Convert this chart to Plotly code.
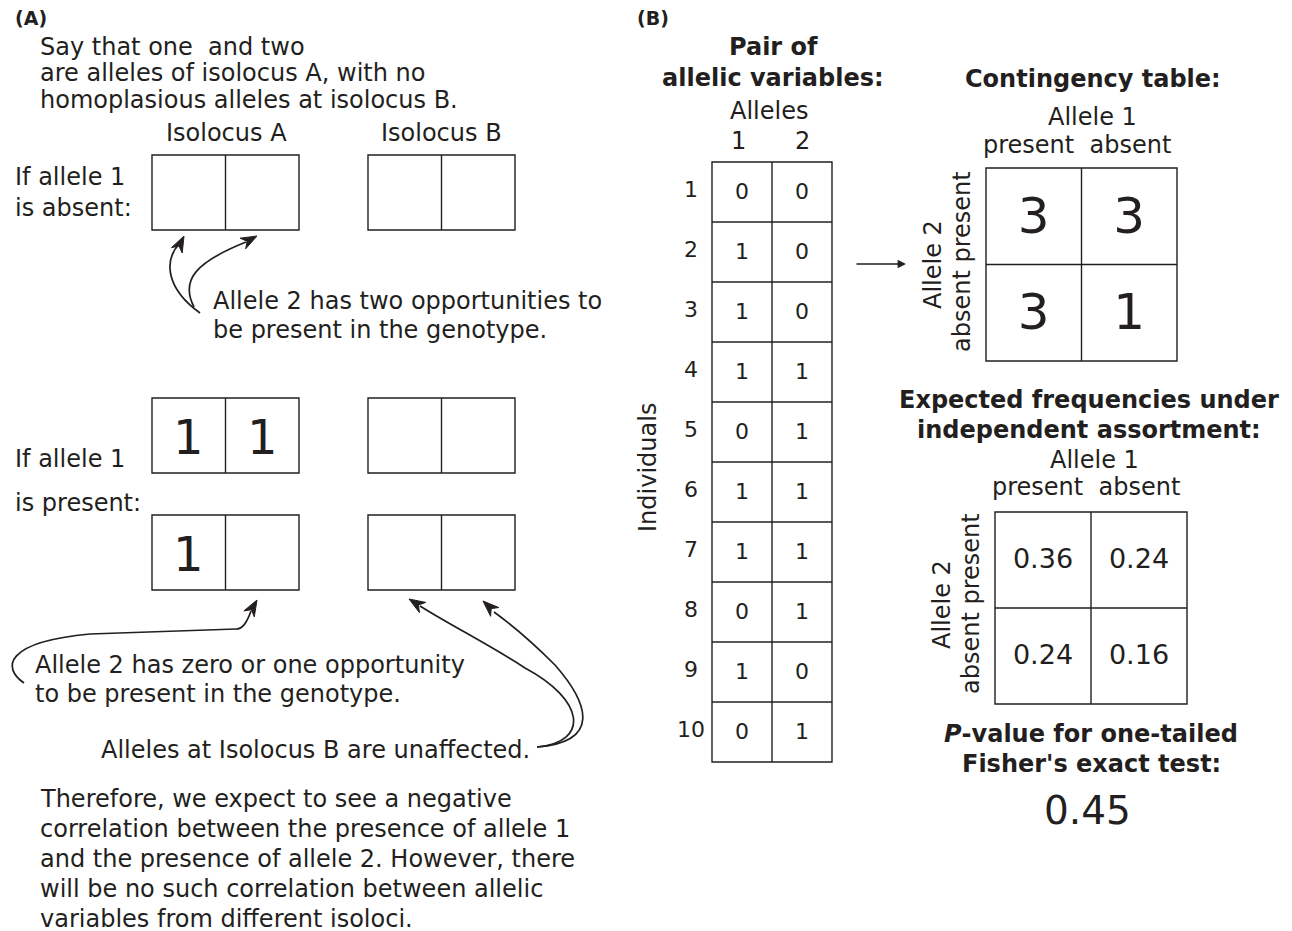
import math
import plotly.graph_objects as go

# ---------------- data ----------------
individuals = list(range(1, 11))
allele1 = [0, 1, 1, 1, 0, 1, 1, 0, 1, 0]
allele2 = [0, 0, 0, 1, 1, 1, 1, 1, 0, 1]
col_labels = ["present", "absent"]          # Allele 1
row_labels = ["present", "absent"]          # Allele 2
contingency = [[3, 3], [3, 1]]              # rows: allele2 present/absent, cols: allele1 present/absent
expected = [[0.36, 0.24], [0.24, 0.16]]
p_value = 0.45
# isolocus example cell contents (left cell, right cell)
absent_A = ["", ""]
present_A_top = ["1", "1"]
present_A_bot = ["1", ""]

FONT = "DejaVu Sans"
INK = "#231f20"
FS = 24

W, H = 1292, 931
OFF = 8  # page body margin
fig = go.Figure()
shapes = []
annos = []


def txt(x, y, s, size=FS, anchor="left", bold=False, angle=0, yanchor="middle"):
    if bold:
        s = "<b>" + s + "</b>"
    annos.append(dict(x=x, y=y, xref="x", yref="y", text=s, showarrow=False,
                      xanchor=anchor, yanchor=yanchor, textangle=angle,
                      font=dict(family=FONT, size=size, color=INK)))


def rect(x0, y0, x1, y1, w=1.4):
    shapes.append(dict(type="rect", x0=x0, y0=y0, x1=x1, y1=y1, xref="x", yref="y",
                       line=dict(color=INK, width=w), fillcolor="rgba(0,0,0,0)"))


def line(x0, y0, x1, y1, w=1.4):
    shapes.append(dict(type="line", x0=x0, y0=y0, x1=x1, y1=y1, xref="x", yref="y",
                       line=dict(color=INK, width=w)))


def head(tip, frm, L=16, Wd=6):
    dx, dy = tip[0] - frm[0], tip[1] - frm[1]
    n = math.hypot(dx, dy)
    ux, uy = dx / n, dy / n
    bx, by = tip[0] - ux * L, tip[1] - uy * L
    mx, my = tip[0] - ux * L * 0.7, tip[1] - uy * L * 0.7
    px, py = -uy, ux
    p = (f"M {tip[0]},{tip[1]} L {bx + px * Wd},{by + py * Wd} L {mx},{my} "
         f"L {bx - px * Wd},{by - py * Wd} Z")
    shapes.append(dict(type="path", path=p, xref="x", yref="y",
                       line=dict(color=INK, width=1), fillcolor=INK))


def curve(path, tip, frm):
    shapes.append(dict(type="path", path=path, xref="x", yref="y",
                       line=dict(color=INK, width=1.7)))
    head(tip, frm)


def pair_box(x0, y0, cw=73.5, ch=75, vals=("", ""), size=48):
    rect(x0, y0, x0 + 2 * cw, y0 + ch)
    line(x0 + cw, y0, x0 + cw, y0 + ch)
    for i, v in enumerate(vals):
        if v:
            txt(x0 + cw * (i + 0.5), y0 + ch / 2 + 1, v, size=size, anchor="center")


# ---------------- panel A ----------------
txt(13, 18, "(A)", size=19, bold=True)
txt(38, 47, "Say that one  and two")
txt(38, 73, "are alleles of isolocus A, with no")
txt(38, 100, "homoplasious alleles at isolocus B.")
txt(226, 133, "Isolocus A", anchor="center")
txt(441, 133, "Isolocus B", anchor="center")
txt(13, 177, "If allele 1")
txt(13, 208, "is absent:")
pair_box(152, 155, vals=absent_A)
pair_box(368, 155)

curve("M 200,313 C 168,290 162,262 180,243", (184, 236), (178, 248))
curve("M 194,307 C 180,280 196,262 246,242", (257, 236), (240, 245))
txt(211, 301, "Allele 2 has two opportunities to")
txt(211, 330, "be present in the genotype.")

txt(13, 459, "If allele 1")
txt(13, 503, "is present:")
pair_box(152, 398, vals=present_A_top)
pair_box(368, 398)
pair_box(152, 515, vals=present_A_bot)
pair_box(368, 515)

curve("M 24,683 C 2,668 4,642 90,634 L 236,629 C 243,629 247,622 251,611",
      (257, 600), (249, 614))
txt(33, 665, "Allele 2 has zero or one opportunity")
txt(33, 694, "to be present in the genotype.")

curve("M 537,747 C 590,742 585,700 525,668 C 490,645 450,625 420,606",
      (409, 599), (425, 609))
curve("M 537,747 C 600,742 590,705 555,665 C 530,640 505,620 494,612",
      (483, 601), (498, 615))
txt(532, 750, "Alleles at Isolocus B are unaffected.", anchor="right")

para = ["Therefore, we expect to see a negative",
        "correlation between the presence of allele 1",
        "and the presence of allele 2. However, there",
        "will be no such correlation between allelic",
        "variables from different isoloci."]
for i, s in enumerate(para):
    txt(38, 799 + 30 * i, s)

# ---------------- panel B ----------------
txt(635, 18, "(B)", size=19, bold=True)
txt(773, 47, "Pair of", anchor="center", bold=True)
txt(773, 78, "allelic variables:", anchor="center", bold=True)
txt(769, 111, "Alleles", anchor="center")
txt(738, 141, "1", anchor="center")
txt(802, 141, "2", anchor="center")

tx0, ty0, tcw, tch = 712, 162, 60, 60
n = len(individuals)
rect(tx0, ty0, tx0 + 2 * tcw, ty0 + n * tch)
line(tx0 + tcw, ty0, tx0 + tcw, ty0 + n * tch)
for i in range(1, n):
    line(tx0, ty0 + i * tch, tx0 + 2 * tcw, ty0 + i * tch)
rows_y = [ty0 + tch * (i + 0.5) + 1 for i in range(n)]
fig.add_trace(go.Scatter(x=[742] * n, y=rows_y, mode="text", text=[str(v) for v in allele1],
                         textfont=dict(family=FONT, size=22, color=INK), hoverinfo="skip",
                         showlegend=False))
fig.add_trace(go.Scatter(x=[802] * n, y=rows_y, mode="text", text=[str(v) for v in allele2],
                         textfont=dict(family=FONT, size=22, color=INK), hoverinfo="skip",
                         showlegend=False))
fig.add_trace(go.Scatter(x=[691] * n, y=[y - 2 for y in rows_y], mode="text",
                         text=[str(v) for v in individuals],
                         textfont=dict(family=FONT, size=22, color=INK), hoverinfo="skip",
                         showlegend=False))
txt(648, 468, "Individuals", anchor="center", angle=-90)

annos.append(dict(x=906, y=264, ax=855, ay=264, xref="x", yref="y", axref="x", ayref="y",
                  text="", showarrow=True, arrowhead=2, arrowsize=1.2, arrowwidth=1.4,
                  arrowcolor=INK))

# contingency table
txt(1093, 79, "Contingency table:", anchor="center", bold=True)
txt(1092, 117, "Allele 1", anchor="center")
txt(1077, 145, col_labels[0] + "  " + col_labels[1], anchor="center")
cx0, cy0, ccw, cch = 986, 168, 95.5, 96.5
rect(cx0, cy0, cx0 + 2 * ccw, cy0 + 2 * cch)
line(cx0 + ccw, cy0, cx0 + ccw, cy0 + 2 * cch)
line(cx0, cy0 + cch, cx0 + 2 * ccw, cy0 + cch)
cxs, cys, ctx = [], [], []
for r in range(2):
    for c in range(2):
        cxs.append(cx0 + ccw * (c + 0.5))
        cys.append(cy0 + cch * (r + 0.5) + 4)
        ctx.append(str(contingency[r][c]))
fig.add_trace(go.Scatter(x=cxs, y=cys, mode="text", text=ctx,
                         textfont=dict(family=FONT, size=50, color=INK), hoverinfo="skip",
                         showlegend=False))
txt(933, 265, "Allele 2", anchor="center", angle=-90)
txt(962, 262, row_labels[1] + " " + row_labels[0], anchor="center", angle=-90)

# expected frequencies
txt(1089, 400, "Expected frequencies under", anchor="center", bold=True)
txt(1089, 430, "independent assortment:", anchor="center", bold=True)
txt(1094, 460, "Allele 1", anchor="center")
txt(1086, 487, col_labels[0] + "  " + col_labels[1], anchor="center")
ex0, ey0, ecw, ech = 995, 512, 96, 96
rect(ex0, ey0, ex0 + 2 * ecw, ey0 + 2 * ech)
line(ex0 + ecw, ey0, ex0 + ecw, ey0 + 2 * ech)
line(ex0, ey0 + ech, ex0 + 2 * ecw, ey0 + ech)
exs, eys, etx = [], [], []
for r in range(2):
    for c in range(2):
        exs.append(ex0 + ecw * (c + 0.5))
        eys.append(ey0 + ech * (r + 0.5) + 1)
        etx.append(f"{expected[r][c]:.2f}")
fig.add_trace(go.Scatter(x=exs, y=eys, mode="text", text=etx,
                         textfont=dict(family=FONT, size=27, color=INK), hoverinfo="skip",
                         showlegend=False))
txt(942, 605, "Allele 2", anchor="center", angle=-90)
txt(971, 604, row_labels[1] + " " + row_labels[0], anchor="center", angle=-90)

txt(1091, 734, "<i>P</i>-value for one-tailed", anchor="center", bold=True)
txt(1091, 764, "Fisher's exact test:", anchor="center", bold=True)
txt(1087, 810, f"{p_value:.2f}", size=39, anchor="center")

fig.update_layout(
    width=W, height=H, margin=dict(l=0, r=0, t=0, b=0),
    paper_bgcolor="white", plot_bgcolor="white",
    xaxis=dict(range=[OFF, W + OFF], visible=False, fixedrange=True),
    yaxis=dict(range=[H + OFF, OFF], visible=False, fixedrange=True),
    shapes=shapes, annotations=annos, showlegend=False,
)
fig.write_html("out.html")
